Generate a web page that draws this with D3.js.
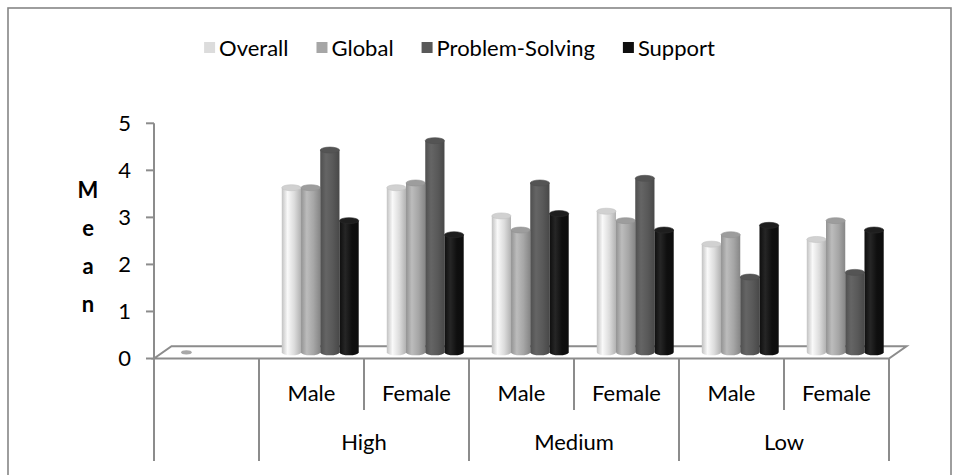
<!DOCTYPE html>
<html>
<head>
<meta charset="utf-8">
<script src="https://cdn.jsdelivr.net/npm/d3@7"></script>
<style>
  html, body { margin: 0; padding: 0; background: #fff; }
  svg { display: block; }
  text { font-family: Lato, "Open Sans", sans-serif; fill: #000; }
</style>
</head>
<body>
<svg id="chart" width="959" height="475"></svg>
<script>
// ---- data ----
const categories = ["", "Male", "Female", "Male", "Female", "Male", "Female"];
const groupLabels = ["High", "Medium", "Low"];
const groupFirstIndex = [1, 3, 5];   // first category of each group
const groupSize = 2;
const seriesNames = ["Overall", "Global", "Problem-Solving", "Support"];
const overall        = [0,    3.5, 3.5, 2.9,  3.0, 2.3, 2.4];
const global         = [null, 3.5, 3.6, 2.6,  2.8, 2.5, 2.8];
const problemSolving = [null, 4.3, 4.5, 3.6,  3.7, 1.6, 1.7];
const support        = [null, 2.8, 2.5, 2.95, 2.6, 2.7, 2.6];
const seriesValues = [overall, global, problemSolving, support];
const yTicks = [0, 1, 2, 3, 4, 5];
const axisTitle = ["M", "e", "a", "n"];
const seriesColors = ["#dcdcdc", "#a6a6a6", "#595959", "#0f0f0f"];

// ---- layout ----
const svg = d3.select("#chart");
const left = 154, right = 889;
const floorFront = 358.5;
const depthX = 17.5, depthY = -12.3;           // oblique offset of the floor's back edge
const gridColor = "#8c8c8c";
const labelSize = 22;

const x = d3.scaleBand().domain(d3.range(categories.length)).range([left, right]).padding(0);
const y = d3.scaleLinear().domain([0, 5]).range([floorFront, 123.3]);
const xs = d3.scaleBand().domain(d3.range(seriesNames.length)).range([0, x.bandwidth()])
  .paddingInner(0).paddingOuter(0.73);

// chart frame
svg.append("rect").attr("x", 8).attr("y", 8).attr("width", 943).attr("height", 480)
  .attr("fill", "#fff").attr("stroke", "#868686").attr("stroke-width", 1.6);

// gradients for the cylinders
const defs = svg.append("defs");
seriesColors.forEach((c, i) => {
  const base = d3.color(c);
  const g = defs.append("linearGradient").attr("id", "cyl" + i)
    .attr("x1", "0%").attr("x2", "100%").attr("y1", "0%").attr("y2", "0%");
  const lightK = i === 3 ? 0.9 : 0.35;
  g.append("stop").attr("offset", "0%").attr("stop-color", base.darker(i === 3 ? 0.2 : 0.35));
  g.append("stop").attr("offset", "30%").attr("stop-color", i === 3 ? "#262626" : base.brighter(lightK));
  g.append("stop").attr("offset", "65%").attr("stop-color", c);
  g.append("stop").attr("offset", "100%").attr("stop-color", base.darker(i === 3 ? 0.3 : 0.6));
});

// floor
const floor = [[left, floorFront], [right, floorFront],
  [right + depthX, floorFront + depthY], [left + depthX, floorFront + depthY]];
svg.append("path").attr("d", "M" + floor.map(p => p.join(",")).join("L") + "Z")
  .attr("fill", "#fff").attr("stroke", gridColor).attr("stroke-width", 2);

// y axis
const yAxis = svg.append("g");
yAxis.append("line").attr("x1", left).attr("x2", left)
  .attr("y1", y(5)).attr("y2", 461).attr("stroke", gridColor).attr("stroke-width", 2);
yAxis.selectAll("line.tick").data(yTicks).join("line").attr("class", "tick")
  .attr("x1", left - 8).attr("x2", left).attr("y1", d => y(d)).attr("y2", d => y(d))
  .attr("stroke", gridColor).attr("stroke-width", 2);
yAxis.selectAll("text").data(yTicks).join("text")
  .attr("x", 131).attr("y", d => y(d)).attr("dy", "0.36em")
  .attr("text-anchor", "end").attr("font-size", labelSize).text(d => d);

// stacked axis title
svg.selectAll("text.title").data(axisTitle).join("text").attr("class", "title")
  .attr("x", 88).attr("y", (d, i) => 190 + i * 38).attr("dy", "0.36em")
  .attr("text-anchor", "middle").attr("font-size", labelSize).attr("font-weight", "bold").text(d => d);

// category axis: dividers and labels
const divs = [];
categories.forEach((c, i) => { if (i > 0) divs.push({ x: x(i), full: (i - 1) % groupSize === 0 }); });
divs.push({ x: right, full: true });
svg.selectAll("line.div").data(divs).join("line").attr("class", "div")
  .attr("x1", d => d.x).attr("x2", d => d.x)
  .attr("y1", floorFront).attr("y2", d => d.full ? 461 : 410)
  .attr("stroke", gridColor).attr("stroke-width", 2);
svg.selectAll("text.cat").data(categories.map((c, i) => ({ c, i })).filter(d => d.c))
  .join("text").attr("class", "cat")
  .attr("x", d => x(d.i) + x.bandwidth() / 2).attr("y", 401)
  .attr("text-anchor", "middle").attr("font-size", labelSize).text(d => d.c);
svg.selectAll("text.grp").data(groupLabels.map((g, k) => ({ g, k })))
  .join("text").attr("class", "grp")
  .attr("x", d => x(groupFirstIndex[d.k]) + groupSize * x.bandwidth() / 2).attr("y", 450)
  .attr("text-anchor", "middle").attr("font-size", labelSize).text(d => d.g);

// cylinders, placed at mid-depth of the floor
const shiftX = depthX / 2, shiftY = depthY / 2;
const rx = xs.bandwidth() / 2, ry = 3;
const bars = svg.append("g");
categories.forEach((c, ci) => {
  seriesValues.forEach((vals, si) => {
    const v = vals[ci];
    if (v === null || v === undefined) return;
    const x0 = x(ci) + xs(si) + shiftX, x1 = x0 + xs.bandwidth(), cx = (x0 + x1) / 2;
    const yBase = y(0) + shiftY, yTop = y(v) + shiftY;
    if (v === 0) {
      bars.append("ellipse").attr("cx", cx).attr("cy", yBase).attr("rx", rx * 0.55).attr("ry", 2.2)
        .attr("fill", "#a8a8a8");
      return;
    }
    bars.append("path")
      .attr("d", `M${x0},${yTop}L${x0},${yBase}A${rx},${ry} 0 0 0 ${x1},${yBase}L${x1},${yTop}Z`)
      .attr("fill", `url(#cyl${si})`);
    const top = d3.color(seriesColors[si]);
    bars.append("ellipse").attr("cx", cx).attr("cy", yTop).attr("rx", rx).attr("ry", ry)
      .attr("fill", si === 3 ? "#1e1e1e" : top.darker(0.15))
      .attr("stroke", si === 3 ? "#2a2a2a" : top.darker(0.35)).attr("stroke-width", 0.6);
  });
});

// legend, entries laid out left to right and centred as a block
const legend = svg.append("g");
const legendGap = 28, swatch = 11, swatchGap = 4, legendCenter = 459.5;
const items = seriesNames.map((name, i) => {
  const g = legend.append("g");
  g.append("rect").attr("x", 0).attr("y", 42).attr("width", swatch).attr("height", swatch)
    .attr("fill", seriesColors[i]);
  const t = g.append("text").attr("x", swatch + swatchGap).attr("y", 48).attr("dy", "0.36em")
    .attr("font-size", labelSize).text(name);
  return { g, w: swatch + swatchGap + t.node().getComputedTextLength() };
});
const total = d3.sum(items, d => d.w) + legendGap * (items.length - 1);
let lx = legendCenter - total / 2;
items.forEach(it => { it.g.attr("transform", `translate(${lx},0)`); lx += it.w + legendGap; });
</script>
</body>
</html>
